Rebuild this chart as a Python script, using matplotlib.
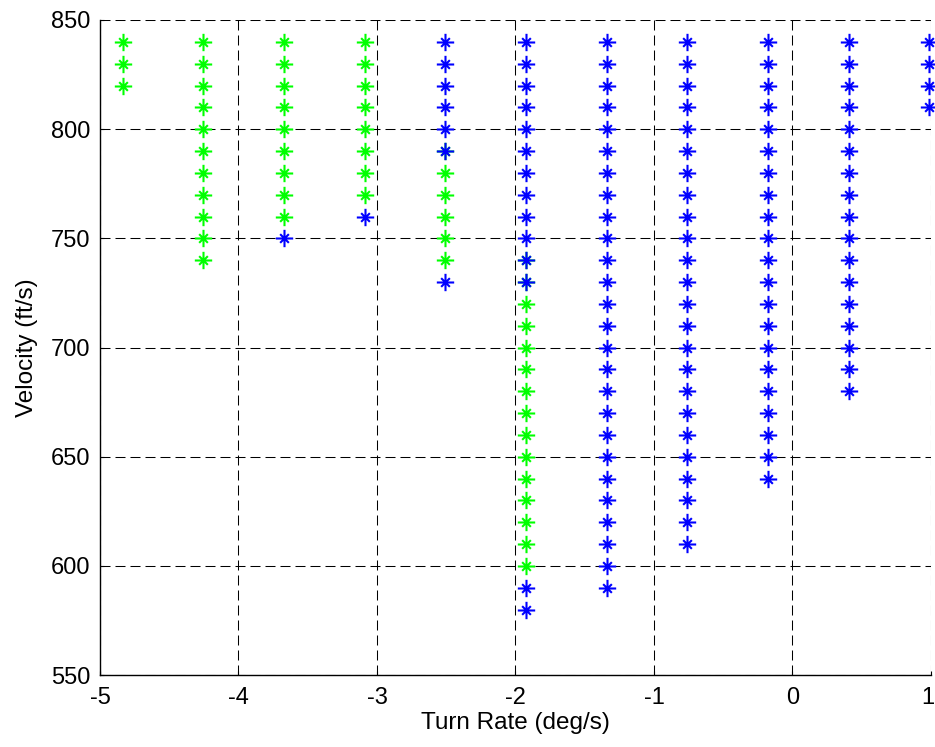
import matplotlib
matplotlib.use("Agg")
import matplotlib.pyplot as plt
from matplotlib.path import Path
from matplotlib.transforms import ScaledTranslation

# Turn-rate columns (deg/s)
turn_rates = [-4.836, -4.254, -3.671, -3.089, -2.507, -1.924,
              -1.342, -0.760, -0.177, 0.405, 0.988]

# Velocities (ft/s) of the green points, one list per turn-rate column
green_vel = [
    [840, 830, 820],
    [840, 830, 820, 810, 800, 790, 780, 770, 760, 750, 740],
    [840, 830, 820, 810, 800, 790, 780, 770, 760],
    [840, 830, 820, 810, 800, 790, 780, 770],
    [790, 780, 770, 760, 750, 740],
    [740, 730, 720, 710, 700, 690, 680, 670, 660, 650, 640, 630, 620, 610, 600],
    [], [], [], [], [],
]

# Velocities (ft/s) of the blue points, one list per turn-rate column
blue_vel = [
    [],
    [],
    [750],
    [760],
    [840, 830, 820, 810, 800, 790, 730],
    [840, 830, 820, 810, 800, 790, 780, 770, 760, 750, 740, 730, 590, 580],
    [840, 830, 820, 810, 800, 790, 780, 770, 760, 750, 740, 730, 720,
     710, 700, 690, 680, 670, 660, 650, 640, 630, 620, 610, 600, 590],
    [840, 830, 820, 810, 800, 790, 780, 770, 760, 750, 740, 730, 720,
     710, 700, 690, 680, 670, 660, 650, 640, 630, 620, 610],
    [840, 830, 820, 810, 800, 790, 780, 770, 760, 750, 740, 730, 720,
     710, 700, 690, 680, 670, 660, 650, 640],
    [840, 830, 820, 810, 800, 790, 780, 770, 760, 750, 740, 730, 720,
     710, 700, 690, 680],
    [840, 830, 820, 810],
]

x_ticks = [-5, -4, -3, -2, -1, 0, 1]
y_ticks = [550, 600, 650, 700, 750, 800, 850]


def flatten(cols):
    xs, ys = [], []
    for tr, vals in zip(turn_rates, cols):
        for v in vals:
            xs.append(tr)
            ys.append(v)
    return xs, ys


# Eight-armed asterisk: long plus arms, shorter diagonal arms
d = 0.5
asterisk = Path(
    [(0, -1), (0, 1), (-1, 0), (1, 0),
     (-d, -d), (d, d), (-d, d), (d, -d)],
    [Path.MOVETO, Path.LINETO] * 4,
)

plt.rcParams["font.family"] = ["Liberation Sans", "DejaVu Sans"]

fig = plt.figure(figsize=(9.35, 7.47), dpi=100)
ax = fig.add_axes([100 / 935, 1 - 675 / 747, 831 / 935, 655 / 747])

gx, gy = flatten(green_vel)
bx, by = flatten(blue_vel)
ax.plot(gx, gy, linestyle="none", marker=asterisk, markersize=12.5,
        markeredgewidth=1.5, color="#00ff00", clip_on=False, zorder=3)
ax.plot(bx, by, linestyle="none", marker=asterisk, markersize=12.5,
        markeredgewidth=1.5, color="#0000ff", clip_on=False, zorder=4)

ax.set_xlim(-5, 1)
ax.set_ylim(550, 850)
ax.set_xticks(x_ticks)
ax.set_yticks(y_ticks)
ax.set_xticklabels([str(t) for t in x_ticks])
ax.set_yticklabels([str(t) for t in y_ticks])

ax.grid(True, color="black", linewidth=0.75, linestyle=(0, (9.6, 4.8)))
ax.set_axisbelow(True)
for side in ("top", "right"):
    ax.spines[side].set_visible(False)
for side in ("left", "bottom"):
    ax.spines[side].set_linewidth(1.0)
    ax.spines[side].set_color("black")

ax.tick_params(direction="in", length=3, width=0.8, labelsize=17,
               top=False, right=False)
ax.tick_params(axis="x", pad=9)
ax.tick_params(axis="y", pad=7)

# keep the rightmost x tick label inside the figure edge
last = ax.get_xticklabels()[-1]
last.set_transform(last.get_transform()
                   + ScaledTranslation(-3 / 100, 0, fig.dpi_scale_trans))

ax.set_xlabel("Turn Rate (deg/s)", fontsize=17.5)
ax.set_ylabel("Velocity (ft/s)", fontsize=17.5)
ax.xaxis.set_label_coords(0.5, -0.057)
ax.yaxis.set_label_coords(-0.075, 0.5)

fig.savefig("out.png", dpi=100)
